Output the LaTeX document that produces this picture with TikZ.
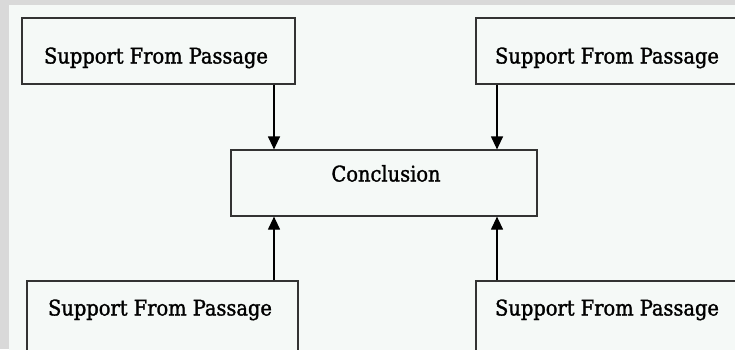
\documentclass[tikz,border=0pt]{standalone}
\usepackage{fontspec}
\setmainfont{DejaVu Serif Condensed}[FakeBold=1.4]
\usetikzlibrary{arrows.meta}
\definecolor{outerbg}{HTML}{D9D9D9}
\definecolor{innerbg}{HTML}{F5F9F7}
\definecolor{boxline}{HTML}{333333}
\tikzset{
  box/.style={draw=boxline, line width=1.2pt, fill=innerbg, inner sep=0pt},
  lbl/.style={inner sep=0pt, font=\fontsize{21.6}{24}\selectfont, anchor=base},
  arr/.style={draw=black, line width=1.2pt, -{Triangle[width=12pt,length=13pt]}}
}
\begin{document}
\begin{tikzpicture}[x=1pt,y=-1pt]
\useasboundingbox (0,0) rectangle (735,349);
\clip (0,0) rectangle (735,349);
\fill[outerbg] (0,0) rectangle (735,349);
\fill[innerbg] (9,5) rectangle (740,355);
% boxes
\node[box, minimum width=273pt, minimum height=66pt] (tlbox) at (158.5,51) {};
\node[box, minimum width=264pt, minimum height=66pt] (trbox) at (608,51) {};
\node[box, minimum width=306pt, minimum height=66pt] (cbox) at (384,183) {};
\node[box, minimum width=271pt, minimum height=90pt] (blbox) at (162.5,326) {};
\node[box, minimum width=264pt, minimum height=90pt] (brbox) at (608,326) {};
% texts
\node[lbl] (tl) at (156,63.5) {Support From Passage};
\node[lbl] (tr) at (607,63.5) {Support From Passage};
\node[lbl] (c) at (386,181.5) {Conclusion};
\node[lbl] (bl) at (160,315.5) {Support From Passage};
\node[lbl] (br) at (607,315.5) {Support From Passage};
% connector columns
\coordinate (xl) at (274,0);
\coordinate (xr) at (497,0);
\draw[arr] (tlbox.south -| xl) -- (cbox.north -| xl);
\draw[arr] (trbox.south -| xr) -- (cbox.north -| xr);
\draw[arr] (blbox.north -| xl) -- (cbox.south -| xl);
\draw[arr] (brbox.north -| xr) -- (cbox.south -| xr);
\end{tikzpicture}
\end{document}
